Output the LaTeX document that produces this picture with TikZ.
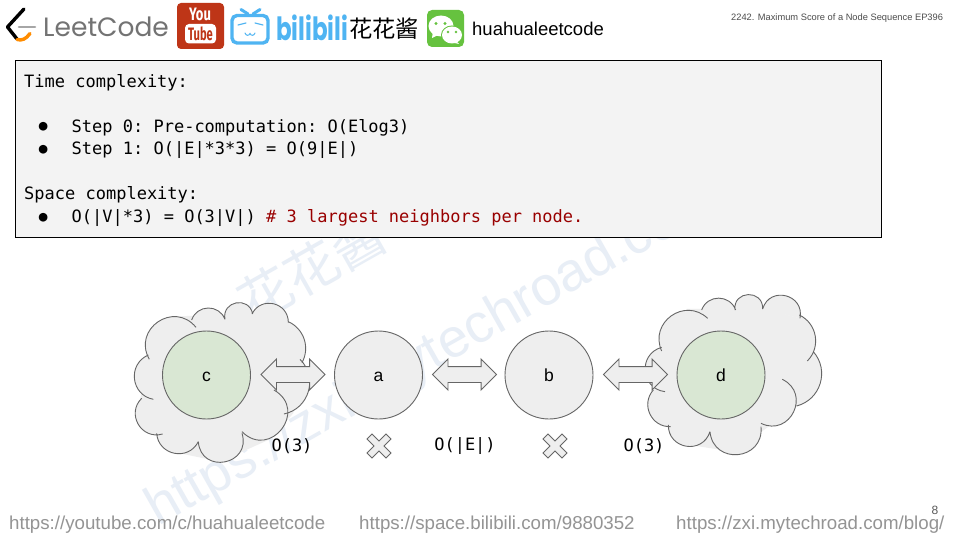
\documentclass[tikz,border=0pt]{standalone}
\usepackage{fontspec}
\setmainfont{Liberation Sans}
\setmonofont{DejaVu Sans Mono}
\newfontfamily\cjkfont{Noto Sans CJK SC}
\newfontfamily\logofont{Poppins}
\newfontfamily\firafont{Fira Sans}
\usetikzlibrary{shapes.arrows}
\definecolor{shapefill}{HTML}{EEEEEE}
\definecolor{shapeline}{HTML}{666666}
\definecolor{greenfill}{HTML}{D9E7D3}
\definecolor{boxfill}{HTML}{F3F3F3}
\definecolor{wm}{HTML}{E8EEF6}
\definecolor{ytred}{HTML}{BE3517}
\definecolor{biliblue}{HTML}{4FB4F2}
\definecolor{wxgreen}{HTML}{66C23F}
\definecolor{codered}{HTML}{990000}
\newcommand{\fs}[1]{\fontsize{#1}{#1}\selectfont}
\tikzset{
  vertex/.style={circle,draw=shapeline,fill=shapefill,line width=0.9pt,minimum size=88pt,inner sep=0pt,font=\fs{17.5},text height=12pt,text depth=0pt},
  seed/.style={vertex,fill=greenfill},
  blockarrow/.style={double arrow,draw=shapeline,fill=shapefill,line width=0.9pt,minimum height=64pt,double arrow head extend=7.5pt,inner xsep=0pt,inner ysep=7.5pt},
  codeline/.style={anchor=base west,inner sep=0pt,font=\ttfamily\fs{17}},
  bulletmark/.style={anchor=base west,inner sep=0pt,font=\ttfamily\fs{14.5}},
  cost/.style={inner sep=0pt,font=\ttfamily\fs{17}},
  foot/.style={anchor=west,inner sep=0pt,font=\fs{18.7},text=black!42},
  lobe/.style={draw=shapeline,fill=shapefill,line width=0.9pt},
  crossmark/.style={draw=shapeline,fill=shapefill,line width=0.9pt},
  wmark/.style={rotate=29.5,text=wm,inner sep=0pt,anchor=base west},
  bl/.code={\pgfmathsetmacro\lobeA{2*atan(2*#1)}\pgfmathsetmacro\lobeL{3.406*(0.25+#1*#1)}\tikzset{bend left=\lobeA,looseness=\lobeL}}
}
\newcommand{\xmark}[2]{\draw[crossmark,shift={(#1,#2)}] (-12,-7)--(-7,-12)--(0,-5)--(7,-12)--(12,-7)--(5,0)--(12,7)--(7,12)--(0,5)--(-7,12)--(-12,7)--(-5,0)--cycle;}
\begin{document}
\begin{tikzpicture}[x=1pt,y=-1pt]
\useasboundingbox (0,0) rectangle (960,540);
\fill[white] (0,0) rectangle (960,540);
% watermark
\node[wmark,font=\fs{54.5}] (wmurl) at (158,527) {https://zxi.mytechroad.com};
\node[wmark,font=\cjkfont\fs{53}] (wmname) at (252,325) {花花酱};
% header
\draw[line width=3.4pt,line cap=round,line join=round] (24,9)--(7.5,27)--(17,39);
\draw[line width=3.4pt,line cap=round,draw=orange!90!yellow] (17,39.5) .. controls (22,41) and (26,39) .. (30,33.5);
\draw[line width=2.6pt,draw=gray!70,line cap=round] (19,27)--(35,27);
\node[anchor=west,inner sep=0pt,font=\logofont\fs{26.5},text=black!55] (lc) at (43,26.5) {LeetCode};
\fill[ytred,rounded corners=4pt] (177,3) rectangle (224,49);
\node[inner sep=0pt,xscale=0.72,text=white,font=\firafont\bfseries\fs{18}] (yt1) at (200,14.5) {You};
\fill[white,rounded corners=4pt] (185,24) rectangle (216,43.5);
\node[inner sep=0pt,xscale=0.62,text=ytred,font=\firafont\bfseries\fs{18}] (yt2) at (200.5,33.5) {Tube};
\draw[biliblue,line width=3.4pt,rounded corners=5pt] (232,15.5) rectangle (268,43);
\draw[biliblue,line width=3pt,line cap=round] (241,9.5)--(248,14) (260,9.5)--(253,14);
\draw[biliblue,line width=1.1pt,line cap=round] (238,25)--(246,23) (255,23)--(263,25);
\draw[biliblue,line width=1pt,line cap=round] (245,33)..controls (246,36) and (249,36)..(250,33.5)..controls (251,36) and (254,36)..(255,33);
\node[anchor=west,inner sep=0pt,xscale=0.72,text=biliblue,font=\logofont\bfseries\fs{32}] (bili) at (276,28) {bilibili};
\node[anchor=west,inner sep=0pt,font=\cjkfont\fs{23.3}] (name) at (349,29) {花花酱};
\fill[wxgreen,rounded corners=5pt] (427,10) rectangle (464,47);
\fill[white] (441,26) ellipse[x radius=12.5,y radius=10.5];
\fill[white] (433,31)--(432,38)--(440,34)--cycle;
\fill[wxgreen] (452,35) ellipse[x radius=11,y radius=9.5];
\fill[white] (452,35) ellipse[x radius=10,y radius=8.5];
\fill[white] (456,41)--(459,44)--(450,42)--cycle;
\fill[wxgreen] (436,23.5) circle(1.6) (445,23.5) circle(1.6) (448,32) circle(1.3) (456,32) circle(1.3);
\node[anchor=west,inner sep=0pt,font=\fs{18.5}] (handle) at (472,29) {huahualeetcode};
\node[anchor=west,inner sep=0pt,font=\fs{9.3},text=black!70] (title) at (731,18) {2242. Maximum Score of a Node Sequence EP396};
% code box
\draw[fill=boxfill,draw=black,line width=0.9pt] (15,60.5) rectangle (881,237);
\node[codeline] (l1) at (24,87.5) {Time complexity:};
\node[bulletmark] (b1) at (38.6,131) {●};
\node[codeline] (l2) at (71.5,132.5) {Step 0: Pre-computation: O(Elog3)};
\node[bulletmark] (b2) at (38.6,153.5) {●};
\node[codeline] (l3) at (71.5,155) {Step 1: O(|E|*3*3) = O(9|E|)};
\node[codeline] (l4) at (24,200) {Space complexity:};
\node[bulletmark] (b3) at (38.6,221) {●};
\node[codeline] (l5) at (71.5,222.5) {O(|V|*3) = O(3|V|) \textcolor{codered}{\# 3 largest neighbors per node.}};
% cloud c
\begin{scope}[shift={(120,290)},x=0.3333pt,y=-0.3333pt]
\fill[shapefill] (85,195)--(150,80)--(400,70)--(505,95)--(548,215)--(520,370)--(445,450)--(300,515)--(180,490)--(110,430)--(60,330)--cycle;
\draw[lobe]
 (100,328) to[bl=0.37] (85,195)
 (88,208) to[bl=0.46] (228,112)
 (215,90) to[bl=0.35] (315,88)
 (315,88) to[bl=0.5] (398,72)
 (396,72) to[bl=0.4] (505,98)
 (505,95) to[bl=0.22] (546,218)
 (540,208) to[bl=0.3] (492,372)
 (462,300) to[bl=0.57] (366,425)
 (366,430) to[bl=0.56] (235,455)
 (235,455) to[bl=0.38] (110,430)
 (128,432) to[bl=0.39] (65,325);
\end{scope}
% cloud d
\begin{scope}[shift={(480,285)},x=0.3333pt,y=-0.3333pt]
\fill[shapefill] (545,185)--(620,72)--(848,70)--(960,100)--(1000,220)--(950,363)--(845,440)--(790,505)--(630,480)--(515,390)--(520,300)--cycle;
\draw[lobe]
 (555,320) to[bl=0.41] (545,187)
 (545,198) to[bl=0.41] (683,100)
 (665,75) to[bl=0.35] (767,75)
 (765,75) to[bl=0.54] (848,72)
 (848,72) to[bl=0.48] (960,100)
 (958,90) to[bl=0.26] (982,228)
 (1000,200) to[bl=0.28] (950,363)
 (907,283) to[bl=0.5] (843,415)
 (843,425) to[bl=0.5] (690,440)
 (690,440) to[bl=0.43] (565,420)
 (572,425) to[bl=0.33] (520,315);
\end{scope}
% nodes
\node[seed] (c) at (206.5,375) {c};
\node[vertex] (a) at (378.5,375) {a};
\node[vertex] (b) at (549,375) {b};
\node[seed] (d) at (721,375) {d};
\node[blockarrow] (ca) at (293,374.5) {};
\node[blockarrow] (ab) at (464.5,374.5) {};
\node[blockarrow] (bd) at (635.5,374.5) {};
\xmark{379}{446}
\xmark{555}{446}
\node[cost] (o1) at (292,446) {O(3)};
\node[cost] (o2) at (465,446) {O(|E|)};
\node[cost] (o3) at (644,446) {O(3)};
% footer
\node[foot] (f1) at (9,525) {https://youtube.com/c/huahualeetcode};
\node[foot] (f2) at (359,525) {https://space.bilibili.com/9880352};
\node[foot] (f3) at (676,525) {https://zxi.mytechroad.com/blog/};
\node[inner sep=0pt,font=\fs{12},text=black!65] (page) at (935,510.5) {8};
\end{tikzpicture}
\end{document}
